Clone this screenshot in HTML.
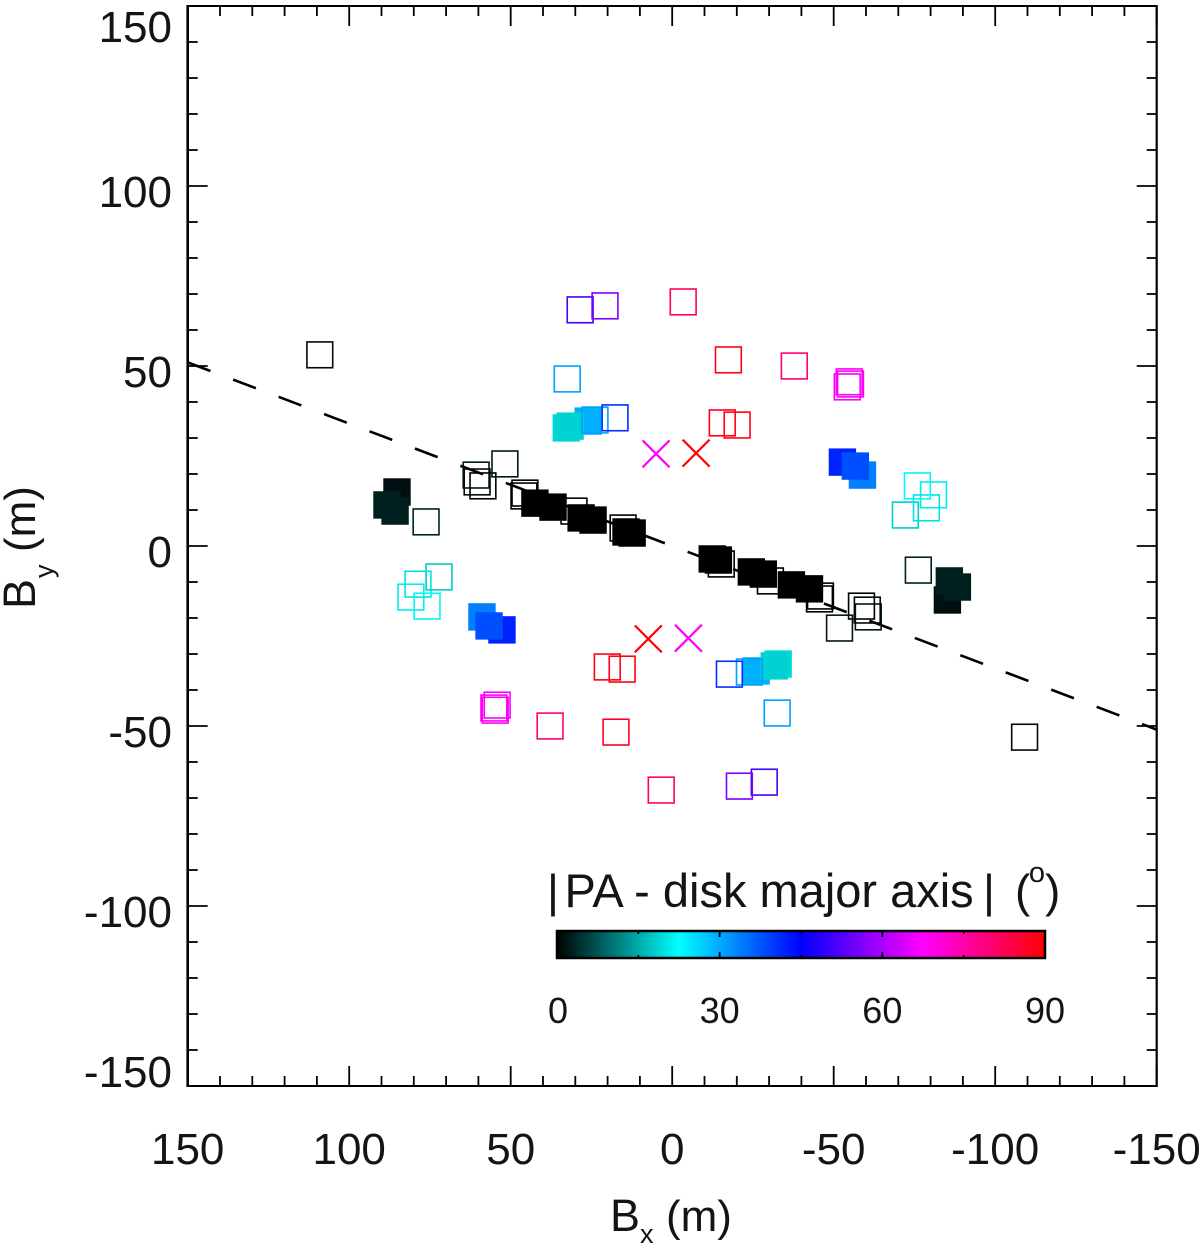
<!DOCTYPE html>
<html lang="en">
<head>
<meta charset="utf-8">
<title>Baseline coverage chart</title>
<style>
  html, body { margin: 0; padding: 0; background: #fff; }
  svg { display: block; }
  text { font-family: "Liberation Sans", Arial, sans-serif; fill: #141414; }
</style>
</head>
<body>
<svg id="chart" xmlns="http://www.w3.org/2000/svg" width="1200" height="1251" viewBox="0 0 1200 1251">
  <defs>
    <linearGradient id="cbar-gradient" x1="0" x2="1" y1="0" y2="0"></linearGradient>
  </defs>
  <rect x="0" y="0" width="1200" height="1251" fill="#fff"></rect>

  <g id="marks"></g>
  <g id="axes"></g>

  <text x="610" y="1231" font-size="45">B</text>
  <text x="640" y="1243" font-size="27">x</text>
  <text x="666" y="1231" font-size="44">(m)</text>

  <g transform="translate(35,0) rotate(-90)">
    <text x="-609" y="0" font-size="45">B</text>
    <text x="-578" y="18" font-size="27">y</text>
    <text x="-552" y="0" font-size="44">(m)</text>
  </g>

  <g>
    <text x="553" y="907" font-size="46" text-anchor="middle">|</text>
    <text x="564.5" y="907" font-size="47">PA - disk major axis</text>
    <text x="989" y="907" font-size="46" text-anchor="middle">|</text>
    <text x="1015" y="907" font-size="46">(</text>
    <text x="1037" y="882" font-size="29" text-anchor="middle">o</text>
    <text x="1045" y="907" font-size="46">)</text>
    <rect x="557" y="931" width="488" height="27" fill="url(#cbar-gradient)" stroke="#000" stroke-width="2.5"></rect>
    <g id="cbar-axis"></g>
  </g>
</svg>

<script>
// Baseline samples (metres). Each baseline is also drawn at its conjugate (-Bx, -By).
const filledBx = [42.5, 36.9, 28.2, 24.5, 14.3, 12.4, 85.2, 85.8, 88.3, 52.7, 58.9, 56.7, 26, 32.8, 31.6];
const filledBy = [11.9, 10.8, 7.8, 7.2, 3.9, 3.6, 15, 9.7, 11.4, -23.3, -19.7, -22.2, 34.7, 32.8, 33.3];
const filledPa = [0, 0, 0, 0, 0, 0, 1.4, 2.8, 2.8, 42, 33.7, 38, 29.5, 19, 18.5];

const openBx = [109.1, 60.7, 60.4, 58.6, 51.8, 45.6, 45.9, 30.4, 15.2, 76.2, 72.2, 78.7, 80.9, 75.9, 28.5, 20.8, -3.4, -17.4, -37.8, -54.8, -55.2, -54.2, 32.5, -15.5, -20.1, 23.9, 17.7];
const openBy = [53.1, 19.7, 17.8, 16.7, 22.8, 14.7, 13.9, 9.7, 5, 6.7, -8.6, -10.6, -14.2, -16.7, 65.6, 66.7, 67.8, 51.7, 50, 45.6, 45, 44.2, 46.4, 34.2, 33.6, 35, 35.6];
const openPa = [1, 2, 1, 0, 2, 0, 0, 0, 0, 3, 18, 20, 21, 22, 51, 56, 82, 87, 80, 68, 69, 67, 31, 88, 88, 31, 41];

const crossBx = [5, -7.4];
const crossBy = [25.6, 25.8];
const crossPa = [67.5, 90];

const majorAxisBx = [150, -150];
const majorAxisBy = [51, -51];

const xTickValues = [150, 100, 50, 0, -50, -100, -150];
const yTickValues = [150, 100, 50, 0, -50, -100, -150];
const colorbarLabels = [0, 30, 60, 90];
const colorbarMinorTicks = [15, 45, 75];
const colorbarMajorTicks = [30, 60];
const colormapAnchors = [[0, 0, 0], [0, 255, 255], [0, 0, 255], [255, 0, 255], [255, 0, 0]];

const NS = 'http://www.w3.org/2000/svg';
const LEFT = 187.7, RIGHT = 1156.7, TOP = 6, BOTTOM = 1086;
const MARKER = 27.4;
const OPEN_STROKE = 1.6;

function xScale(v) { return (LEFT + RIGHT) / 2 - v * (RIGHT - LEFT) / 300; }
function yScale(v) { return (TOP + BOTTOM) / 2 - v * (BOTTOM - TOP) / 300; }
function cbarScale(v) { return 557 + v / 90 * 488; }

function paColor(pa) {
  const t = Math.max(0, Math.min(1, pa / 90)) * (colormapAnchors.length - 1);
  const i = Math.min(Math.floor(t), colormapAnchors.length - 2);
  const f = t - i;
  const c = colormapAnchors[i].map(function (a, k) {
    return Math.round(a + (colormapAnchors[i + 1][k] - a) * f);
  });
  return 'rgb(' + c.join(',') + ')';
}

function make(tag, attrs, parent) {
  const node = document.createElementNS(NS, tag);
  Object.keys(attrs).forEach(function (k) { node.setAttribute(k, attrs[k]); });
  parent.appendChild(node);
  return node;
}

const marks = document.getElementById('marks');
const axes = document.getElementById('axes');
const cbarAxis = document.getElementById('cbar-axis');
const gradient = document.getElementById('cbar-gradient');

colormapAnchors.forEach(function (c, i) {
  make('stop', { offset: i / (colormapAnchors.length - 1), 'stop-color': 'rgb(' + c.join(',') + ')' }, gradient);
});

// Disk major axis
const dashLine = make('line', {
  x1: xScale(majorAxisBx[0]), y1: yScale(majorAxisBy[0]),
  x2: xScale(majorAxisBx[1]), y2: yScale(majorAxisBy[1]),
  stroke: '#000', 'stroke-width': 2.6, 'stroke-dasharray': '24.3 24.3'
}, marks);



// Filled markers
[1, -1].forEach(function (sign) {
  filledBx.forEach(function (b, i) {
    const r = make('rect', {
      x: xScale(sign * b) - MARKER / 2, y: yScale(sign * filledBy[i]) - MARKER / 2,
      width: MARKER, height: MARKER, fill: paColor(filledPa[i])
    }, marks);
    
    
  });
});

// Open markers
[1, -1].forEach(function (sign) {
  openBx.forEach(function (b, i) {
    const r = make('rect', {
      x: xScale(sign * b) - (MARKER - OPEN_STROKE) / 2, y: yScale(sign * openBy[i]) - (MARKER - OPEN_STROKE) / 2,
      width: MARKER - OPEN_STROKE, height: MARKER - OPEN_STROKE, fill: 'none',
      stroke: paColor(openPa[i]), 'stroke-width': OPEN_STROKE
    }, marks);
    
    
  });
});

// Cross markers
[1, -1].forEach(function (sign) {
  crossBx.forEach(function (b, i) {
    const cx = xScale(sign * b), cy = yScale(sign * crossBy[i]), h = 13.5;
    const p = make('path', {
      d: 'M' + (cx - h) + ' ' + (cy - h) + 'L' + (cx + h) + ' ' + (cy + h) +
         'M' + (cx - h) + ' ' + (cy + h) + 'L' + (cx + h) + ' ' + (cy - h),
      fill: 'none', stroke: paColor(crossPa[i]), 'stroke-width': 2.2
    }, marks);
    
    
  });
});

// Frame
const frameTop = make('line', { x1: LEFT, x2: RIGHT, y1: TOP, y2: TOP, stroke: '#000', 'stroke-width': 2 }, axes);


const frameBottom = make('line', { x1: LEFT, x2: RIGHT, y1: BOTTOM, y2: BOTTOM, stroke: '#000', 'stroke-width': 2 }, axes);


const frameLeft = make('line', { x1: LEFT, x2: LEFT, y1: TOP - 1, y2: BOTTOM + 1, stroke: '#000', 'stroke-width': 2.6 }, axes);


const frameRight = make('line', { x1: RIGHT, x2: RIGHT, y1: TOP - 1, y2: BOTTOM + 1, stroke: '#000', 'stroke-width': 2.2 }, axes);



// Ticks every 10 m, long every 50 m
for (let v = -150; v <= 150; v += 10) {
  const len = v % 50 === 0 ? 20 : 10;
  const px = xScale(v), py = yScale(v);
  const t1 = make('line', { x1: px, x2: px, y1: BOTTOM, y2: BOTTOM - len, stroke: '#000', 'stroke-width': 1.8 }, axes);
  
  
  const t2 = make('line', { x1: px, x2: px, y1: TOP, y2: TOP + len, stroke: '#000', 'stroke-width': 1.8 }, axes);
  
  
  const t3 = make('line', { x1: LEFT, x2: LEFT + len, y1: py, y2: py, stroke: '#000', 'stroke-width': 1.8 }, axes);
  
  
  const t4 = make('line', { x1: RIGHT, x2: RIGHT - len, y1: py, y2: py, stroke: '#000', 'stroke-width': 1.8 }, axes);
  
  
}

xTickValues.forEach(function (v) {
  const t = make('text', { x: xScale(v), y: 1164, 'font-size': 44, 'text-anchor': 'middle' }, axes);
  t.textContent = String(v);
  
  
});

yTickValues.forEach(function (v) {
  const shift = v === 150 ? 36 : (v === -150 ? 1 : 21);
  const t = make('text', { x: 172, y: yScale(v) + shift, 'font-size': 44, 'text-anchor': 'end' }, axes);
  t.textContent = String(v);
  
  
});

// Colorbar axis
colorbarMinorTicks.forEach(function (v) {
  const px = cbarScale(v);
  const a = make('path', { d: 'M' + px + ' 931V934M' + px + ' 958V955', stroke: '#000', 'stroke-width': 1.6, fill: 'none' }, cbarAxis);
  
  
});
colorbarMajorTicks.forEach(function (v) {
  const px = cbarScale(v);
  const a = make('path', { d: 'M' + px + ' 931V937M' + px + ' 958V952', stroke: '#000', 'stroke-width': 1.8, fill: 'none' }, cbarAxis);
  
  
});
colorbarLabels.forEach(function (v) {
  const t = make('text', { x: cbarScale(v) + (v === 0 ? 1 : 0), y: 1023, 'font-size': 36, 'text-anchor': 'middle' }, cbarAxis);
  t.textContent = String(v);
  
  
});
</script>
</body>
</html>
